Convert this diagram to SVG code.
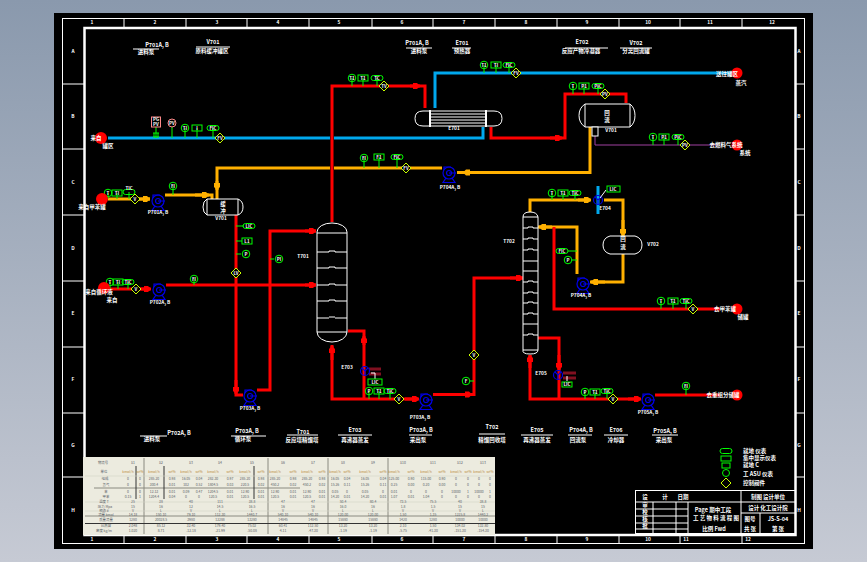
<svg xmlns="http://www.w3.org/2000/svg" width="867" height="562" viewBox="0 0 867 562">
<style>
text{font-family:"Noto Sans CJK SC","Liberation Sans",sans-serif;fill:#fff;font-weight:700;text-anchor:middle}
.t{font-size:5.500px}.s{font-size:4.800px}.in{font-size:4.500px}
.le text{text-anchor:start}
.gl{stroke:#fff;stroke-width:1;fill:none}
.eq{stroke:#fff;stroke-width:1;fill:#000}
.r,.y,.c,.p{fill:none;stroke-linejoin:miter}
.r{stroke:#f00;stroke-width:3}
.y{stroke:#ffb000;stroke-width:3}
.c{stroke:#00a8ee;stroke-width:3}
.p{stroke:#a040a0;stroke-width:1}
.iso{fill:none;stroke:#00ff00;stroke-width:1}
.st{stroke:#00ff00;stroke-width:1}
.dm{fill:#000;stroke:#c8ff00;stroke-width:1}
.pk{fill:#000;stroke:#ff8a8a;stroke-width:1}
.pu{fill:none;stroke:#0000e6;stroke-width:1.200}
.db{stroke:#801020;stroke-width:3}
.tb text{fill:#5a5f68;font-size:3.400px;font-weight:400}
.tb text.o{fill:#b98a3a}
.tl{stroke:#8a8a80;stroke-width:1}
.td{stroke:#333;stroke-width:1}
</style>
<defs>
<linearGradient id="bg" x1="0" y1="0" x2="0" y2="1"><stop offset="0" stop-color="#8a99ad"/><stop offset="1" stop-color="#c6cad4"/></linearGradient>
<marker id="ar" markerUnits="userSpaceOnUse" markerWidth="8" markerHeight="7" refX="7" refY="3.500" orient="auto"><path d="M0 .5H4L7 3.500 4 6.500H0Z" fill="#f00"/></marker>
<marker id="ay" markerUnits="userSpaceOnUse" markerWidth="8" markerHeight="7" refX="7" refY="3.500" orient="auto"><path d="M0 .5H4L7 3.500 4 6.500H0Z" fill="#ffb000"/></marker>
<g id="ci"><circle r="3.800" class="iso"/></g>
<g id="sq"><rect x="-5" y="-3" width="10" height="6" class="iso"/></g>
<g id="ov"><rect x="-6" y="-2.500" width="12" height="5" rx="2.500" class="iso"/></g>
<g id="di"><path d="M0-5 5 0 0 5-5 0Z" class="dm"/></g>
<g id="pump"><circle r="6" class="pu"/><circle r="2.500" class="pu"/><path d="M-5 -3V-6H2M0 0H7M-3 5-6 9.500H6L3 5" class="pu"/></g>
<g id="cond"><circle r="4.500" class="pu"/><path d="M-3-3 0 0 3-3M0 0V4" class="pu"/></g>
</defs>
<rect width="867" height="562" fill="url(#bg)"/>
<rect x="54" y="13" width="759" height="536" fill="#000"/>
<g id="frame">
<rect x="62.500" y="18.500" width="742" height="525" class="gl"/>
<rect x="84.500" y="28" width="711" height="507" fill="none" stroke="#fff" stroke-width="2.500"/>
<path class="gl" d="M124 18V27M186 18V27M247 18V27M309 18V27M372 18V27M433 18V27M495 18V27M557 18V27M619 18V27M680 18V27M742 18V27M124 536V543M186 536V543M247 536V543M309 536V543M372 536V543M433 536V543M495 536V543M557 536V543M619 536V543M680 536V543M742 536V543M62 84H84M62 149H84M62 215H84M62 281H84M62 347H84M62 413H84M62 477H84M796 84H805M796 149H805M796 215H805M796 281H805M796 347H805M796 413H805M796 477H805"/>
<g class="s"><text x="92" y="24">1</text><text x="155" y="24">2</text><text x="217" y="24">3</text><text x="278" y="24">4</text><text x="339" y="24">5</text><text x="402" y="24">6</text><text x="464" y="24">7</text><text x="526" y="24">8</text><text x="587" y="24">9</text><text x="648" y="24">10</text><text x="710" y="24">11</text><text x="772" y="24">12</text>
<text x="92" y="541">1</text><text x="155" y="541">2</text><text x="217" y="541">3</text><text x="278" y="541">4</text><text x="339" y="541">5</text><text x="402" y="541">6</text><text x="464" y="541">7</text><text x="526" y="541">8</text><text x="587" y="541">9</text><text x="648" y="541">10</text><text x="686" y="541">11</text><text x="748" y="541">12</text>
<text x="73" y="53">A</text><text x="73" y="118">B</text><text x="73" y="184">C</text><text x="73" y="250">D</text><text x="73" y="315">E</text><text x="73" y="381">F</text><text x="73" y="447">G</text><text x="73" y="512">H</text>
<text x="799" y="53">A</text><text x="799" y="118">B</text><text x="799" y="184">C</text><text x="799" y="250">D</text><text x="799" y="315">E</text><text x="799" y="381">F</text><text x="799" y="447">G</text><text x="799" y="512">H</text></g>
</g>
<g id="connectors">
<path class="c" d="M108 138H330M334 138H483V127"/>
<path class="c" d="M435 108V73H735"/>
<path class="c" d="M598 186V214"/>
<path d="M217 199V168H330M334 168H442" class="y"/>
<path class="y" marker-end="url(#ay)" d="M217 181V190"/>
<path class="r" d="M332 222V86H425V108"/>
<path class="r" marker-end="url(#ar)" d="M410 86H420"/>
<path class="y" d="M590 127V172.500H457"/>
<path class="y" marker-end="url(#ay)" d="M475 172.500H463"/>
<path class="r" d="M491 127V138H565V94H626V103"/>
<path class="r" marker-end="url(#ar)" d="M550 138H562"/>
<path class="p" d="M595 136V145H718"/>
<path class="y" d="M108 199H150"/>
<path class="y" marker-end="url(#ay)" d="M135 199H150"/>
<path class="y" d="M165 195H212V199"/>
<path class="y" marker-end="url(#ay)" d="M195 195H209"/>
<path class="r" d="M236 215V395H243"/>
<path class="r" marker-end="url(#ar)" d="M236 380V394"/>
<path class="r" d="M257 390H270V231H316"/>
<path class="r" marker-end="url(#ar)" d="M305 231H316"/>
<path class="r" d="M108 289H150"/>
<path class="r" marker-end="url(#ar)" d="M140 289H151"/>
<path class="r" d="M166 285H316"/>
<path class="r" marker-end="url(#ar)" d="M305 285H316"/>
<path class="r" d="M332 345V399H418"/>
<path class="r" marker-end="url(#ar)" d="M332 360V346"/>
<path class="r" marker-end="url(#ar)" d="M405 399H419"/>
<path class="r" d="M433 394.500H474V278H523"/>
<path class="r" marker-end="url(#ar)" d="M460 394.500H472"/>
<path class="r" marker-end="url(#ar)" d="M510 278H523"/>
<path class="r" d="M348 331H364V399"/>
<path class="r" marker-end="url(#ar)" d="M364 345V336"/>
<path class="y" d="M530 212V200H590M604 200H623V236"/>
<path class="y" marker-end="url(#ay)" d="M578 200H591"/>
<path class="y" marker-end="url(#ay)" d="M623 220V236"/>
<path class="y" d="M623 254V282H590"/>
<path class="y" marker-end="url(#ay)" d="M605 282H591"/>
<path class="y" d="M577 274V227H538"/>
<path class="y" marker-end="url(#ay)" d="M552 227H539"/>
<path class="r" d="M554 227V309H720"/>
<path class="r" d="M538 338H559V399"/>
<path class="r" marker-end="url(#ar)" d="M559 355V370"/>
<path class="r" d="M530 355V399H640"/>
<path class="r" marker-end="url(#ar)" d="M530 368V355"/>
<path class="r" marker-end="url(#ar)" d="M628 399H641"/>
<path class="r" d="M655 395H720"/>
<path class="db" d="M369 369H381M369 374H381M563 373H576M563 378H576"/>
</g>
<g id="E701">
<path class="eq" d="M430 111H423Q415 111 415 118.500T423 126H494Q502 126 502 118.500T494 111Z"/>
<path class="gl" d="M430 114H486M430 117H486M430 120H486M430 123H486"/>
<path d="M430 110V127M486 110V127" stroke="#fff" stroke-width="2"/>
<text class="s" x="454" y="130">E701</text>
</g>
<g id="V702">
<path class="eq" d="M585 104H630Q635 108 635 115.500T630 127H585Q579 123 579 115.500T585 104Z"/>
<path class="gl" d="M585 104V127M630 104V127"/>
<rect x="592" y="127" width="6" height="9" class="eq"/>
<text class="t" x="607" y="115">回</text><text class="t" x="607" y="122">流</text>
<text class="s" x="611" y="132">V701</text>
</g>
<g id="V701">
<path class="eq" d="M207 199H238Q243 201 243 207T238 215H207Q203 213 203 207T207 199Z"/>
<path class="gl" d="M207 199V215M238 199V215"/>
<text class="t" x="223" y="206">缓</text><text class="t" x="223" y="213">冲</text>
<text class="s" x="221" y="220">V701</text>
</g>
<g id="T701">
<path class="eq" d="M317 232A15 9 0 0 1 347 232V332A15 10 0 0 1 317 332Z"/>
<path class="gl" d="M317 233H347M317 252H329V251H335V252H347M317 268H329V267H335V268H347M317 285H329V284H335V285H347M317 301H329V300H335V301H347M317 318H329M335 318H347M329 317H335M317 332H347"/>
<text class="s" x="303" y="258">T701</text>
<text class="s" x="347" y="369">E703</text>
</g>
<g id="T702">
<path class="eq" d="M523 217Q523 212 530 212T538 217V350Q538 354 530 354T523 350Z"/>
<path class="gl" d="M523 217H538M523 228H528V227H533V228H538M523 239H528V238H533V239H538M523 250H528V249H533V250H538M523 261H538M523 271H538M523 282H528V281H533V282H538M523 293H528V292H533V293H538M523 303H528V302H533V303H538M523 314H528V313H533V314H538M523 324H538M523 335H528V334H533V335H538M523 350H538"/>
<text class="s" x="509" y="243">T702</text>
<text class="s" x="541" y="375">E705</text>
</g>
<g id="V703">
<path class="eq" d="M610 236H635Q642 238 642 245T635 254H610Q603 252 603 245T610 236Z"/>
<text class="t" x="623" y="241">回</text><text class="t" x="623" y="249">流</text>
<text class="s" x="653" y="246">V702</text>
</g>
<g id="pumps">
<use href="#pump" x="449" y="173"/><text class="s" x="450" y="189">P704A, B</text>
<use href="#pump" x="158" y="201"/><text class="s" x="158" y="214">P701A, B</text>
<use href="#pump" x="159" y="290"/><text class="s" x="160" y="304">P702A, B</text>
<use href="#pump" x="250" y="396"/><text class="s" x="250" y="410">P703A, B</text>
<use href="#pump" x="426" y="400"/><text class="s" x="420" y="419">P703A, B</text>
<use href="#pump" x="583" y="284"/><text class="s" x="581" y="297">P704A, B</text>
<use href="#pump" x="648" y="400"/><text class="s" x="648" y="414">P705A, B</text>
<use href="#cond" x="365" y="371"/>
<use href="#cond" x="558" y="375"/>
<use href="#cond" x="598" y="200"/><text class="s" x="605" y="210">E704</text>
</g>
<g id="instruments">
<path class="st" d="M352 78V86M363 78V86M377 78V86M484 65V73M496 65V73M509 65V73M573 86V94M584 86V94M598 86V94M364 158V168M379 157V168M397 157V168M653 137V145M664 137V145M678 137V145M156 122V138M172 123V138M185 128V138M197 128V138M213 128V138M108 193V199M117 193V199M129 192V199M173 186V195M110 282V289M118 282V289M128 282V289M194 279V285M369 391V399M379 391V399M390 391V399M552 193V200M563 193V200M575 193V200M661 301V309M673 301V309M686 301V309M585 392V399M595 392V399M607 391V399M686 386V395M244 226H236M242 241H236M241 254H236M274 259H270M470 381H474M568 251H577M572 260H577"/>
<path d="M375 379V373H371M567 381V376M606 190 600 198" stroke="#fff" fill="none"/>
<use href="#ci" x="352" y="78"/><use href="#sq" x="363" y="78"/><use href="#ov" x="377" y="78"/><use href="#di" x="384" y="86"/>
<use href="#ci" x="484" y="65"/><use href="#sq" x="496" y="65"/><use href="#ov" x="509" y="65"/><use href="#di" x="516" y="73"/>
<use href="#ci" x="573" y="86"/><use href="#sq" x="584" y="86"/><use href="#ov" x="598" y="86"/><use href="#di" x="605" y="94"/>
<use href="#ci" x="364" y="158"/><use href="#sq" x="379" y="157"/><use href="#ov" x="397" y="157"/><use href="#di" x="406" y="168"/>
<use href="#ci" x="653" y="137"/><use href="#sq" x="664" y="137"/><use href="#ov" x="678" y="137"/><use href="#di" x="685" y="145"/>
<rect x="151.500" y="117" width="9" height="10" class="pk"/><circle cx="172" cy="123" r="4" class="pk"/>
<path d="M153 133H159M153 137H159M154 133V137M158 133V137" stroke="#00ff00" fill="none"/>
<use href="#ci" x="185" y="128"/><use href="#sq" x="197" y="128"/><use href="#ov" x="213" y="128"/><use href="#di" x="220" y="138"/>
<use href="#ci" x="108" y="193"/><use href="#sq" x="117" y="193"/><use href="#ov" x="129" y="192"/><use href="#di" x="135" y="199"/><use href="#ci" x="173" y="186"/>
<use href="#ov" x="249" y="226"/><use href="#sq" x="247" y="241"/><use href="#ci" x="246" y="254"/><use href="#di" x="236" y="273"/><use href="#ci" x="279" y="259"/>
<use href="#ci" x="110" y="282"/><use href="#sq" x="118" y="282"/><use href="#ov" x="128" y="282"/><use href="#di" x="136" y="289"/><use href="#ci" x="194" y="279"/>
<use href="#ci" x="369" y="391"/><use href="#sq" x="379" y="391"/><use href="#ov" x="390" y="391"/><use href="#di" x="399" y="399"/><rect x="368" y="379" width="14" height="6" class="iso"/>
<use href="#di" x="474" y="355"/><use href="#ci" x="466" y="381"/>
<use href="#ci" x="552" y="193"/><use href="#sq" x="563" y="193"/><use href="#ov" x="575" y="193"/><rect x="607" y="186" width="13" height="6" class="iso"/>
<use href="#ov" x="562" y="251"/><use href="#ci" x="568" y="260"/>
<use href="#ci" x="661" y="301"/><use href="#sq" x="673" y="301"/><use href="#ov" x="686" y="301"/><use href="#di" x="693" y="309"/>
<use href="#ci" x="585" y="392"/><use href="#sq" x="595" y="392"/><use href="#ov" x="607" y="391"/><use href="#di" x="613" y="399"/><rect x="562" y="382" width="10" height="5" class="iso"/><use href="#ci" x="686" y="386"/>
<g class="in">
<text x="352" y="80">T1</text><text x="363" y="80">T1</text><text x="377" y="80">TC</text><text x="384" y="88">TV</text>
<text x="484" y="67">T1</text><text x="496" y="67">TI</text><text x="509" y="67">FIC</text><text x="516" y="75">FV</text>
<text x="573" y="88">T</text><text x="584" y="88">P1</text><text x="598" y="88">PIC</text><text x="605" y="96">PV</text>
<text x="364" y="160">FI</text><text x="379" y="159">F1</text><text x="397" y="159">FIC</text><text x="406" y="170">FV</text>
<text x="653" y="139">T</text><text x="664" y="139">P1</text><text x="678" y="139">PIC</text><text x="685" y="147">PV</text>
<text x="156" y="121">PG</text><text x="156" y="126">PV</text><text x="172" y="125">PV</text>
<text x="185" y="130">TI</text><text x="197" y="130">I</text><text x="213" y="130">FIC</text><text x="220" y="140">FV</text>
<text x="108" y="195">T</text><text x="117" y="195">TI</text><text x="129" y="190">TIC</text><text x="135" y="201">V</text><text x="173" y="188">FI</text>
<text x="249" y="228">LIC</text><text x="247" y="243">L1</text><text x="246" y="256">P</text><text x="236" y="275">LV</text><text x="279" y="261">PI</text>
<text x="110" y="284">T</text><text x="118" y="284">TI</text><text x="128" y="284">TIC</text><text x="136" y="291">V</text><text x="194" y="281">FI</text>
<text x="369" y="393">P</text><text x="379" y="393">T1</text><text x="390" y="393">TIC</text><text x="399" y="401">V</text><text x="375" y="384">LIC</text>
<text x="474" y="357">V</text><text x="466" y="383">F</text>
<text x="552" y="195">T</text><text x="563" y="195">T1</text><text x="575" y="195">TIC</text><text x="613" y="191">LIC</text>
<text x="562" y="253">FIC</text><text x="568" y="262">P</text>
<text x="661" y="303">T</text><text x="673" y="303">T1</text><text x="686" y="303">TIC</text><text x="693" y="311">V</text>
<text x="585" y="394">P</text><text x="595" y="394">T1</text><text x="607" y="393">TIC</text><text x="613" y="401">V</text><text x="567" y="386">LIC</text><text x="686" y="388">FI</text>
</g>
</g>
<g id="terminals">
<circle cx="101" cy="138" r="6" fill="#f00"/><circle cx="102" cy="199" r="6" fill="#f00"/><circle cx="104" cy="288" r="6" fill="#f00"/>
<circle cx="737" cy="73" r="5.500" fill="#f00"/><circle cx="737" cy="145" r="5.500" fill="#f00"/><circle cx="737" cy="309" r="5.500" fill="#f00"/><circle cx="737" cy="395" r="5.500" fill="#f00"/>
<g class="t">
<text x="96" y="140">来自</text><text x="108" y="148">罐区</text>
<text x="92" y="209">来自甲苯罐</text>
<text x="99" y="294">来自循环液</text><text x="112" y="302">来自</text>
<text x="727" y="76">送往罐区</text><text x="741" y="85">蒸汽</text>
<text x="726" y="147">去燃料气系统</text><text x="745" y="155">系统</text>
<text x="725" y="311">去甲苯罐</text><text x="743" y="319">储罐</text>
<text x="723" y="397">去重组分储罐</text>
</g>
</g>
<g id="titles" class="t">
<text x="157" y="47">P701A, B</text><text x="146" y="54">进料泵</text>
<text x="213" y="44">V701</text><text x="212" y="53">原料缓冲罐区</text>
<text x="417" y="45">P701A, B</text><text x="419" y="53">进料泵</text>
<text x="462" y="45">E701</text><text x="462" y="53">预热器</text>
<text x="582" y="44">E702</text><text x="581" y="53">反应产物冷凝器</text>
<text x="636" y="45">V702</text><text x="636" y="53">分离回流罐</text>
<text x="179" y="435">P702A, B</text><text x="152" y="441">进料泵</text>
<text x="247" y="433">P703A, B</text><text x="243" y="441">循环泵</text>
<text x="303" y="434">T701</text><text x="302" y="442">反应塔精馏塔</text>
<text x="355" y="432">E703</text><text x="355" y="442">再沸器蒸发</text>
<text x="421" y="432">P703A, B</text><text x="418" y="442">采出泵</text>
<text x="492" y="429">T702</text><text x="492" y="442">精馏回收塔</text>
<text x="537" y="432">E705</text><text x="537" y="442">再沸器蒸发</text>
<text x="581" y="432">P704A, B</text><text x="578" y="442">回流泵</text>
<text x="616" y="432">E706</text><text x="616" y="442">冷却器</text>
<text x="665" y="433">P705A, B</text><text x="664" y="442">采出泵</text>
<path class="gl" d="M133 49H159M196 47H230M406 48H432M452 48H471M565 48H608M620 48H652M140 436H167M231 436H266M287 435H318M338 435H372M409 435H432M479 434H505M521 435H553M568 435H592M604 435H628M652 435H678"/>
</g>
<g id="stream-table">
<rect x="83" y="457" width="412" height="78" fill="#ecebdf"/>
<path class="tl" d="M144 458V534M268 458V534M328 458V534M388 458V534M94 488H300M85 516H495"/>
<path class="td" d="M136 466V499M164 466V499M254 466V499M85 523.500H495"/>
<path d="M85 476H495M85 502H495M85 511H495" stroke="#d5d5c8" stroke-width=".6"/>
<g class="tb">
<text x="103" y="464">物流号</text><text x="104" y="473">单位</text><text x="105" y="480">组成</text><text x="106" y="486">氢气</text><text x="106" y="493">苯</text><text x="106" y="498">甲苯</text>
<text x="104" y="503">温度 T</text><text x="105" y="507.500">压力 Mpa</text><text x="104" y="512">相态 #</text><text x="106" y="516">流量 kmol</text><text x="106" y="521">质量流量</text><text x="106" y="527">比热容</text><text x="104" y="532">密度 kg/m</text>
<text y="464"><tspan x="133">S1</tspan><tspan x="161">S2</tspan><tspan x="191">S3</tspan><tspan x="220">S4</tspan><tspan x="252">S5</tspan><tspan x="283">S6</tspan><tspan x="313">S7</tspan><tspan x="343">S8</tspan><tspan x="373">S9</tspan><tspan x="403">S10</tspan><tspan x="433">S11</tspan><tspan x="460">S12</tspan><tspan x="483">S13</tspan></text>
<text class="o" y="473"><tspan x="128">kmol/h</tspan><tspan x="140">wt%</tspan><tspan x="154">kmol/h</tspan><tspan x="172">wt%</tspan><tspan x="186">kmol/h</tspan><tspan x="199">wt%</tspan><tspan x="213">kmol/h</tspan><tspan x="230">wt%</tspan><tspan x="245">kmol/h</tspan><tspan x="261">wt%</tspan><tspan x="275">kmol/h</tspan><tspan x="293">wt%</tspan><tspan x="307">kmol/h</tspan><tspan x="322">wt%</tspan><tspan x="335">kmol/h</tspan><tspan x="347">wt%</tspan><tspan x="365">kmol/h</tspan><tspan x="383">wt%</tspan><tspan x="394">kmol/h</tspan><tspan x="411">wt%</tspan><tspan x="426">kmol/h</tspan><tspan x="442">wt%</tspan><tspan x="456">kmol/h</tspan><tspan x="468">wt%</tspan><tspan x="479">kmol/h</tspan><tspan x="490">wt%</tspan></text>
<text y="480"><tspan x="128">0</tspan><tspan x="140">0</tspan><tspan x="154">285.20</tspan><tspan x="172">0.98</tspan><tspan x="186">16.05</tspan><tspan x="199">0.04</tspan><tspan x="213">282.30</tspan><tspan x="230">0.97</tspan><tspan x="245">285.20</tspan><tspan x="261">0.98</tspan><tspan x="275">285.20</tspan><tspan x="293">0.98</tspan><tspan x="307">285.20</tspan><tspan x="322">0.98</tspan><tspan x="335">16.05</tspan><tspan x="347">0.04</tspan><tspan x="365">16.05</tspan><tspan x="383">0.04</tspan><tspan x="394">125.00</tspan><tspan x="411">0.90</tspan><tspan x="426">115.00</tspan><tspan x="442">0.90</tspan><tspan x="456">0</tspan><tspan x="468">0</tspan><tspan x="479">0</tspan><tspan x="490">0</tspan></text>
<text y="486"><tspan x="128">0</tspan><tspan x="140">0</tspan><tspan x="154">300.4</tspan><tspan x="172">0.01</tspan><tspan x="186">102</tspan><tspan x="199">0.52</tspan><tspan x="213">1804.5</tspan><tspan x="230">0.03</tspan><tspan x="245">220.5</tspan><tspan x="261">0.02</tspan><tspan x="275">450.2</tspan><tspan x="293">0.02</tspan><tspan x="307">450.2</tspan><tspan x="322">0.02</tspan><tspan x="335">15.26</tspan><tspan x="347">0.11</tspan><tspan x="365">15.26</tspan><tspan x="383">0.11</tspan><tspan x="394">0.25</tspan><tspan x="411">0.00</tspan><tspan x="426">0.20</tspan><tspan x="442">0.00</tspan><tspan x="456">0</tspan><tspan x="468">0</tspan><tspan x="479">0</tspan><tspan x="490">0</tspan></text>
<text y="493"><tspan x="128">0</tspan><tspan x="140">0</tspan><tspan x="154">12.13</tspan><tspan x="172">0.01</tspan><tspan x="186">0.09</tspan><tspan x="199">0.47</tspan><tspan x="213">1204.5</tspan><tspan x="230">0.01</tspan><tspan x="245">12.90</tspan><tspan x="261">0.01</tspan><tspan x="275">12.90</tspan><tspan x="293">0.01</tspan><tspan x="307">12.90</tspan><tspan x="322">0.01</tspan><tspan x="335">0.05</tspan><tspan x="347">0</tspan><tspan x="365">0.05</tspan><tspan x="383">0</tspan><tspan x="394">0.01</tspan><tspan x="411">0</tspan><tspan x="426">0</tspan><tspan x="442">0</tspan><tspan x="456">10000</tspan><tspan x="468">1</tspan><tspan x="479">10000</tspan><tspan x="490">1</tspan></text>
<text y="498"><tspan x="128">0.15</tspan><tspan x="140">1</tspan><tspan x="154">1204.4</tspan><tspan x="172">0.04</tspan><tspan x="186">0</tspan><tspan x="199">0</tspan><tspan x="213">120.5</tspan><tspan x="230">0.01</tspan><tspan x="245">120.5</tspan><tspan x="261">0.01</tspan><tspan x="275">120.5</tspan><tspan x="293">0.01</tspan><tspan x="307">120.5</tspan><tspan x="322">0.01</tspan><tspan x="335">14.20</tspan><tspan x="347">0.01</tspan><tspan x="365">14.20</tspan><tspan x="383">0.01</tspan><tspan x="394">1.07</tspan><tspan x="411">0.01</tspan><tspan x="426">1.04</tspan><tspan x="442">0</tspan><tspan x="456">0</tspan><tspan x="468">0</tspan><tspan x="479">0</tspan><tspan x="490">0</tspan></text>
<text y="503"><tspan x="133">25</tspan><tspan x="161">38</tspan><tspan x="191">40</tspan><tspan x="220">111</tspan><tspan x="252">38.8</tspan><tspan x="283">47</tspan><tspan x="313">47</tspan><tspan x="343">50.4</tspan><tspan x="373">80.4</tspan><tspan x="403">73.5</tspan><tspan x="433">75.5</tspan><tspan x="460">40</tspan><tspan x="483">38.8</tspan></text>
<text y="507.500"><tspan x="133">15</tspan><tspan x="161">16</tspan><tspan x="191">12</tspan><tspan x="220">14.5</tspan><tspan x="252">16.5</tspan><tspan x="283">16</tspan><tspan x="313">16</tspan><tspan x="343">16.0</tspan><tspan x="373">16</tspan><tspan x="403">1.8</tspan><tspan x="433">1.5</tspan><tspan x="460">15</tspan><tspan x="483">15</tspan></text>
<text y="512"><tspan x="133">V</tspan><tspan x="161">L</tspan><tspan x="191">V</tspan><tspan x="220">L</tspan><tspan x="252">L</tspan><tspan x="283">V</tspan><tspan x="313">V</tspan><tspan x="343">L</tspan><tspan x="373">L</tspan><tspan x="403">V</tspan><tspan x="433">V</tspan><tspan x="460">V</tspan><tspan x="483">L</tspan></text>
<text y="516"><tspan x="133">14.18</tspan><tspan x="161">150.10</tspan><tspan x="191">79.10</tspan><tspan x="220">112.30</tspan><tspan x="252">1440.7</tspan><tspan x="283">540.10</tspan><tspan x="313">540.10</tspan><tspan x="343">120.00</tspan><tspan x="373">120.00</tspan><tspan x="403">1.50</tspan><tspan x="433">1.35</tspan><tspan x="460">1225.8</tspan><tspan x="483">1440.2</tspan></text>
<text y="521"><tspan x="133">1280</tspan><tspan x="161">20028.5</tspan><tspan x="191">3980</tspan><tspan x="220">12288</tspan><tspan x="252">13280</tspan><tspan x="283">14845</tspan><tspan x="313">14845</tspan><tspan x="343">15880</tspan><tspan x="373">15880</tspan><tspan x="403">1420</tspan><tspan x="433">1280</tspan><tspan x="460">10000</tspan><tspan x="483">10000</tspan></text>
<text y="527"><tspan x="133">2.048</tspan><tspan x="161">85.12</tspan><tspan x="191">32.40</tspan><tspan x="220">179.40</tspan><tspan x="252">75.02</tspan><tspan x="283">60.41</tspan><tspan x="313">112.50</tspan><tspan x="343">13.20</tspan><tspan x="373">13.20</tspan><tspan x="403">2.10</tspan><tspan x="433">1.50</tspan><tspan x="460">134.02</tspan><tspan x="483">132.80</tspan></text>
<text y="532"><tspan x="133">1.020</tspan><tspan x="161">8.71</tspan><tspan x="191">-12.18</tspan><tspan x="220">-21.99</tspan><tspan x="252">-50.08</tspan><tspan x="283">4.11</tspan><tspan x="313">-47.30</tspan><tspan x="343">-1.19</tspan><tspan x="373">-1.19</tspan><tspan x="403">-5.75</tspan><tspan x="433">-41.30</tspan><tspan x="460">-151.30</tspan><tspan x="483">-154.30</tspan></text>
</g>
</g>
<g id="legend">
<use href="#ov" x="726" y="451"/><rect x="721" y="456" width="10" height="5" class="iso"/><rect x="722" y="463" width="8" height="5" class="iso"/><circle cx="726" cy="473" r="3.500" class="iso"/><use href="#di" x="726" y="483"/>
<g class="t le"><text x="743" y="453">就地 仪表</text><text x="743" y="460">集中显示仪表</text><text x="743" y="467">就地 C</text><text x="743" y="476">工 ASU 仪表</text><text x="743" y="485">控制阀件</text></g>
</g>
<g id="title-block">
<rect x="635.500" y="490.500" width="160" height="43" class="gl"/>
<path class="gl" d="M741 490V533M635 502H796M635 509H688M635 516H688M635 523H688M635 529H688M741 513H796M760 513V533M653 502V533M676 502V533M688 502V533"/>
<g class="t"><text x="645" y="499">设</text><text x="665" y="499">计</text><text x="683" y="499">日期</text><text x="645" y="507">审</text><text x="645" y="514">校</text><text x="645" y="521">核</text><text x="645" y="528">批</text>
<text x="713" y="512">Page 期中工段</text><text x="716" y="520">工 艺 物 料 流 程 图</text><text x="714" y="531">比例 Fwd</text>
<text x="768" y="499">制图 设计单位</text><text x="768" y="510">设计 化工设计院</text><text x="750" y="521">图号</text><text x="778" y="521">JS-S-04</text><text x="750" y="531">共 张</text><text x="778" y="531">第 张</text></g>
</g>
</svg>
